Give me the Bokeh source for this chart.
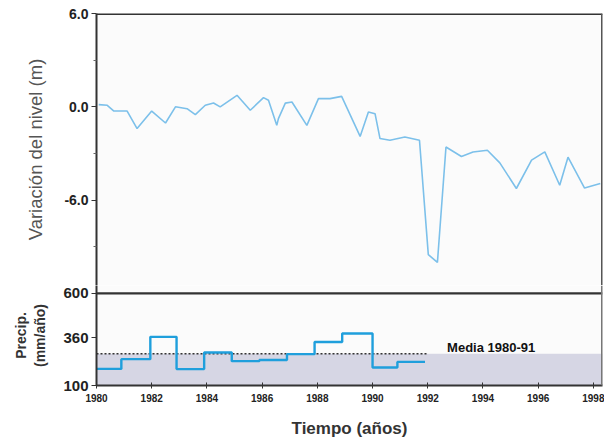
from bokeh.plotting import figure
from bokeh.layouts import column
from bokeh.models import FixedTicker, PrintfTickFormatter, Range1d, Span
from bokeh.core.properties import value
from bokeh.embed import file_html
from bokeh.resources import INLINE

# ---- data ----
lvl_years = [1980.08, 1980.39, 1980.63, 1981.11, 1981.47, 1982.00, 1982.50, 1982.86,
             1983.28, 1983.58, 1983.94, 1984.24, 1984.48, 1985.09, 1985.57, 1986.05,
             1986.23, 1986.53, 1986.59, 1986.84, 1987.08, 1987.62, 1988.04, 1988.46,
             1988.88, 1989.55, 1989.85, 1990.09, 1990.27, 1990.63, 1991.17, 1991.70,
             1992.02, 1992.35, 1992.66, 1993.22, 1993.64, 1994.16, 1994.61, 1995.21,
             1995.76, 1996.24, 1996.78, 1997.08, 1997.68, 1998.25]
lvl_values = [0.14, 0.10, -0.27, -0.27, -1.40, -0.27, -1.04, 0.00,
              -0.12, -0.50, 0.10, 0.25, 0.00, 0.74, -0.22, 0.59,
              0.42, -1.19, -0.76, 0.24, 0.31, -1.19, 0.53, 0.53,
              0.67, -1.90, -0.33, -0.44, -2.04, -2.15, -1.94, -2.15,
              -9.50, -10.00, -2.58, -3.19, -2.90, -2.79, -3.60, -5.25,
              -3.43, -2.90, -5.04, -3.24, -5.22, -4.93]

precip_years = [1980.0, 1980.9, 1981.95, 1982.9, 1983.9, 1984.9, 1985.9, 1986.9,
                1987.9, 1988.9, 1990.0, 1990.9, 1991.9]
precip_values = [190, 243, 364, 189, 279, 232, 238, 270, 336, 382, 198, 228, 228]

mean_precip = 272
mean_period = [1980, 1992]
mean_label = "Media 1980-91"
mean_label_pos = (1992.7, 307)

x_ticks = list(range(1980, 1999, 2))
lvl_ticks = [-6, 0, 6]
lvl_minor = [-9, -3, 3]
precip_ticks = [100, 360, 600]

X_START, X_END = 1980.0, 1998.33
LVL_MIN, LVL_MAX = -12, 6
P_MIN, P_MAX = 100, 600

# ---- layout constants (pixels) ----
W = 604
B_LEFT, B_RIGHT = 96, 2
TOP = 13            # top of the level panel
UPPER_H = 280       # level panel height
LOWER_H = 94        # precipitation panel height
OVERLAP = 8         # part of the level panel drawn by the lower figure
B_BOTTOM = 53

H1 = TOP + UPPER_H - OVERLAP
H2 = OVERLAP + LOWER_H + B_BOTTOM
lvl_range_start = LVL_MAX - (LVL_MAX - LVL_MIN) * (UPPER_H - OVERLAP) / UPPER_H
p_range_end = P_MAX + (P_MAX - P_MIN) * OVERLAP / LOWER_H

FONT = "Liberation Sans"
BG = "#fbfbfb"
DARK = "#333333"


def style_y(ax, size):
    ax.axis_line_width = 2
    ax.axis_line_color = DARK
    ax.major_tick_in = 0
    ax.major_tick_out = 5
    ax.major_tick_line_color = DARK
    ax.major_label_text_font = FONT
    ax.major_label_text_font_style = "bold"
    ax.major_label_text_font_size = size
    ax.major_label_text_color = "#222222"
    ax.major_label_standoff = 3


# ---- top panel: water level ----
p1 = figure(width=W, height=H1, output_backend="svg", toolbar_location=None,
            x_range=Range1d(X_START, X_END),
            y_range=Range1d(lvl_range_start, LVL_MAX),
            x_axis_location=None, min_border_left=B_LEFT, min_border_right=B_RIGHT,
            min_border_top=TOP, min_border_bottom=0)
p1.background_fill_color = BG
p1.border_fill_color = "white"
p1.outline_line_color = None
p1.grid.visible = False
p1.add_layout(Span(location=LVL_MAX, dimension="width", line_color=DARK, line_width=3))
p1.add_layout(Span(location=X_END, dimension="height", line_color="#555555", line_width=3))

ya = p1.yaxis[0]
ya.ticker = FixedTicker(ticks=lvl_ticks, minor_ticks=lvl_minor)
ya.formatter = PrintfTickFormatter(format="%.1f")
style_y(ya, "14px")
ya.minor_tick_in = 0
ya.minor_tick_out = 3
ya.minor_tick_line_color = "#666666"
ya.axis_label = "Variación del nivel (m)"
ya.axis_label_text_font = FONT
ya.axis_label_text_font_style = "normal"
ya.axis_label_text_font_size = "18.5px"
ya.axis_label_text_color = "#555555"
ya.axis_label_standoff = 15

p1.line(lvl_years, lvl_values, line_color="#7cc0ea", line_width=1.6)

# ---- bottom panel: precipitation ----
p2 = figure(width=W, height=H2, output_backend="svg", toolbar_location=None,
            x_range=p1.x_range, y_range=Range1d(P_MIN, p_range_end),
            min_border_left=B_LEFT, min_border_right=B_RIGHT, min_border_top=0,
            min_border_bottom=B_BOTTOM)
p2.background_fill_color = BG
p2.border_fill_color = "white"
p2.outline_line_color = None
p2.grid.visible = False

p2.varea(x=[X_START, X_END], y1=[P_MIN, P_MIN], y2=[mean_precip, mean_precip],
         fill_color="#d6d6e4", fill_alpha=1.0)
p2.line(mean_period, [mean_precip, mean_precip], line_color=DARK,
        line_width=1.6, line_dash="2 2")
p2.step(precip_years, precip_values, mode="after", line_color="#1f9fdc",
        line_width=2.4)
p2.text(x=[mean_label_pos[0]], y=[mean_label_pos[1]], text=[mean_label],
        text_font=value(FONT), text_font_style="bold", text_font_size="13px",
        text_color="#111111", text_baseline="middle", text_align="left")
p2.add_layout(Span(location=P_MAX, dimension="width", line_color=DARK, line_width=2.2))
p2.add_layout(Span(location=X_END, dimension="height", line_color="#777777", line_width=3))

ya2 = p2.yaxis[0]
ya2.ticker = FixedTicker(ticks=precip_ticks, minor_ticks=[])
style_y(ya2, "15px")
ya2.axis_label = "Precip.\n(mm/año)"
ya2.axis_label_text_font = FONT
ya2.axis_label_text_font_style = "bold"
ya2.axis_label_text_font_size = "14px"
ya2.axis_label_text_color = DARK
ya2.axis_label_standoff = 12

xa = p2.xaxis[0]
xa.ticker = FixedTicker(ticks=x_ticks, minor_ticks=[])
xa.axis_line_width = 2
xa.axis_line_color = DARK
xa.major_tick_in = 3
xa.major_tick_out = 3
xa.major_tick_line_color = DARK
xa.major_label_text_font = FONT
xa.major_label_text_font_style = "bold"
xa.major_label_text_font_size = "10px"
xa.major_label_text_color = "#222222"
xa.major_label_standoff = 5
xa.axis_label = "Tiempo (años)"
xa.axis_label_text_font = FONT
xa.axis_label_text_font_style = "bold"
xa.axis_label_text_font_size = "17px"
xa.axis_label_text_color = DARK
xa.axis_label_standoff = 14

layout = column(p1, p2, spacing=0)
open("out.html", "w").write(file_html(layout, INLINE))
